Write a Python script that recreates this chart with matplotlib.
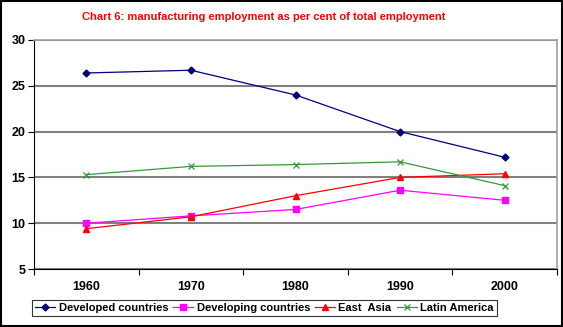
import matplotlib
matplotlib.use("Agg")
import matplotlib.pyplot as plt
from matplotlib.patches import Rectangle

plt.rcParams['font.family'] = ['Liberation Sans', 'DejaVu Sans']

# data
years = ['1960', '1970', '1980', '1990', '2000']
developed = [26.4, 26.7, 24.0, 20.0, 17.2]
developing = [10.0, 10.8, 11.5, 13.6, 12.5]
east_asia = [9.4, 10.7, 13.0, 15.0, 15.4]
latin_america = [15.3, 16.2, 16.4, 16.7, 14.1]
y_ticks = [5, 10, 15, 20, 25, 30]

fig = plt.figure(figsize=(5.63, 3.27), dpi=100)
ax = fig.add_axes([34 / 563, 1 - 269 / 327, (557 - 34) / 563, (269 - 40) / 327])

x = list(range(len(years)))
ax.plot(x, developed, color='#000080', marker='D', ms=3.5, lw=0.9, label='Developed countries')
ax.plot(x, developing, color='#FF00FF', marker='s', ms=4, lw=0.9, label='Developing countries')
ax.plot(x, east_asia, color='#FF0000', marker='^', ms=4.5, lw=0.9, label='East  Asia')
ax.plot(x, latin_america, color='#339933', marker='x', ms=4, mew=0.9, lw=0.9, label='Latin America')

ax.set_xlim(-0.5, len(years) - 0.5)
ax.set_ylim(5, 30)
ax.set_yticks(y_ticks)
ax.set_yticklabels([str(v) for v in y_ticks], fontsize=9, fontweight='bold')
ax.set_xticks(x)
ax.set_xticklabels(years, fontsize=9, fontweight='bold')
ax.set_xticks([i - 0.5 for i in range(len(years) + 1)], minor=True)
ax.tick_params(axis='x', which='major', length=0, pad=9)
ax.tick_params(axis='x', which='minor', length=4, width=0.8, direction='out')
ax.tick_params(axis='y', length=4, width=0.8, direction='out', pad=2)

ax.yaxis.grid(True, color='#808080', lw=1.5)
ax.set_axisbelow(True)
for s in ['top', 'right']:
    ax.spines[s].set_color('#a0a0a0')
    ax.spines[s].set_linewidth(1.2)
for s in ['left', 'bottom']:
    ax.spines[s].set_color('black')
    ax.spines[s].set_linewidth(0.8)

fig.text(264 / 563, 1 - 17 / 327, 'Chart 6: manufacturing employment as per cent of total employment',
         color='#FF0000', fontsize=8, fontweight='bold', ha='center', va='center')

leg = fig.legend(loc='center left', bbox_to_anchor=(32 / 563, 1 - 308 / 327), ncol=4,
                 frameon=True, fancybox=False, edgecolor='black',
                 prop={'weight': 'bold', 'size': 8}, handlelength=1.8, handletextpad=0.3,
                 columnspacing=0.45, borderpad=0.3, borderaxespad=0)
leg.get_frame().set_linewidth(0.8)

fig.patches.append(Rectangle((0.001, 0.002), 0.997, 0.996, transform=fig.transFigure,
                             fill=False, edgecolor='black', lw=1.5))

fig.savefig('out.png', dpi=100)
